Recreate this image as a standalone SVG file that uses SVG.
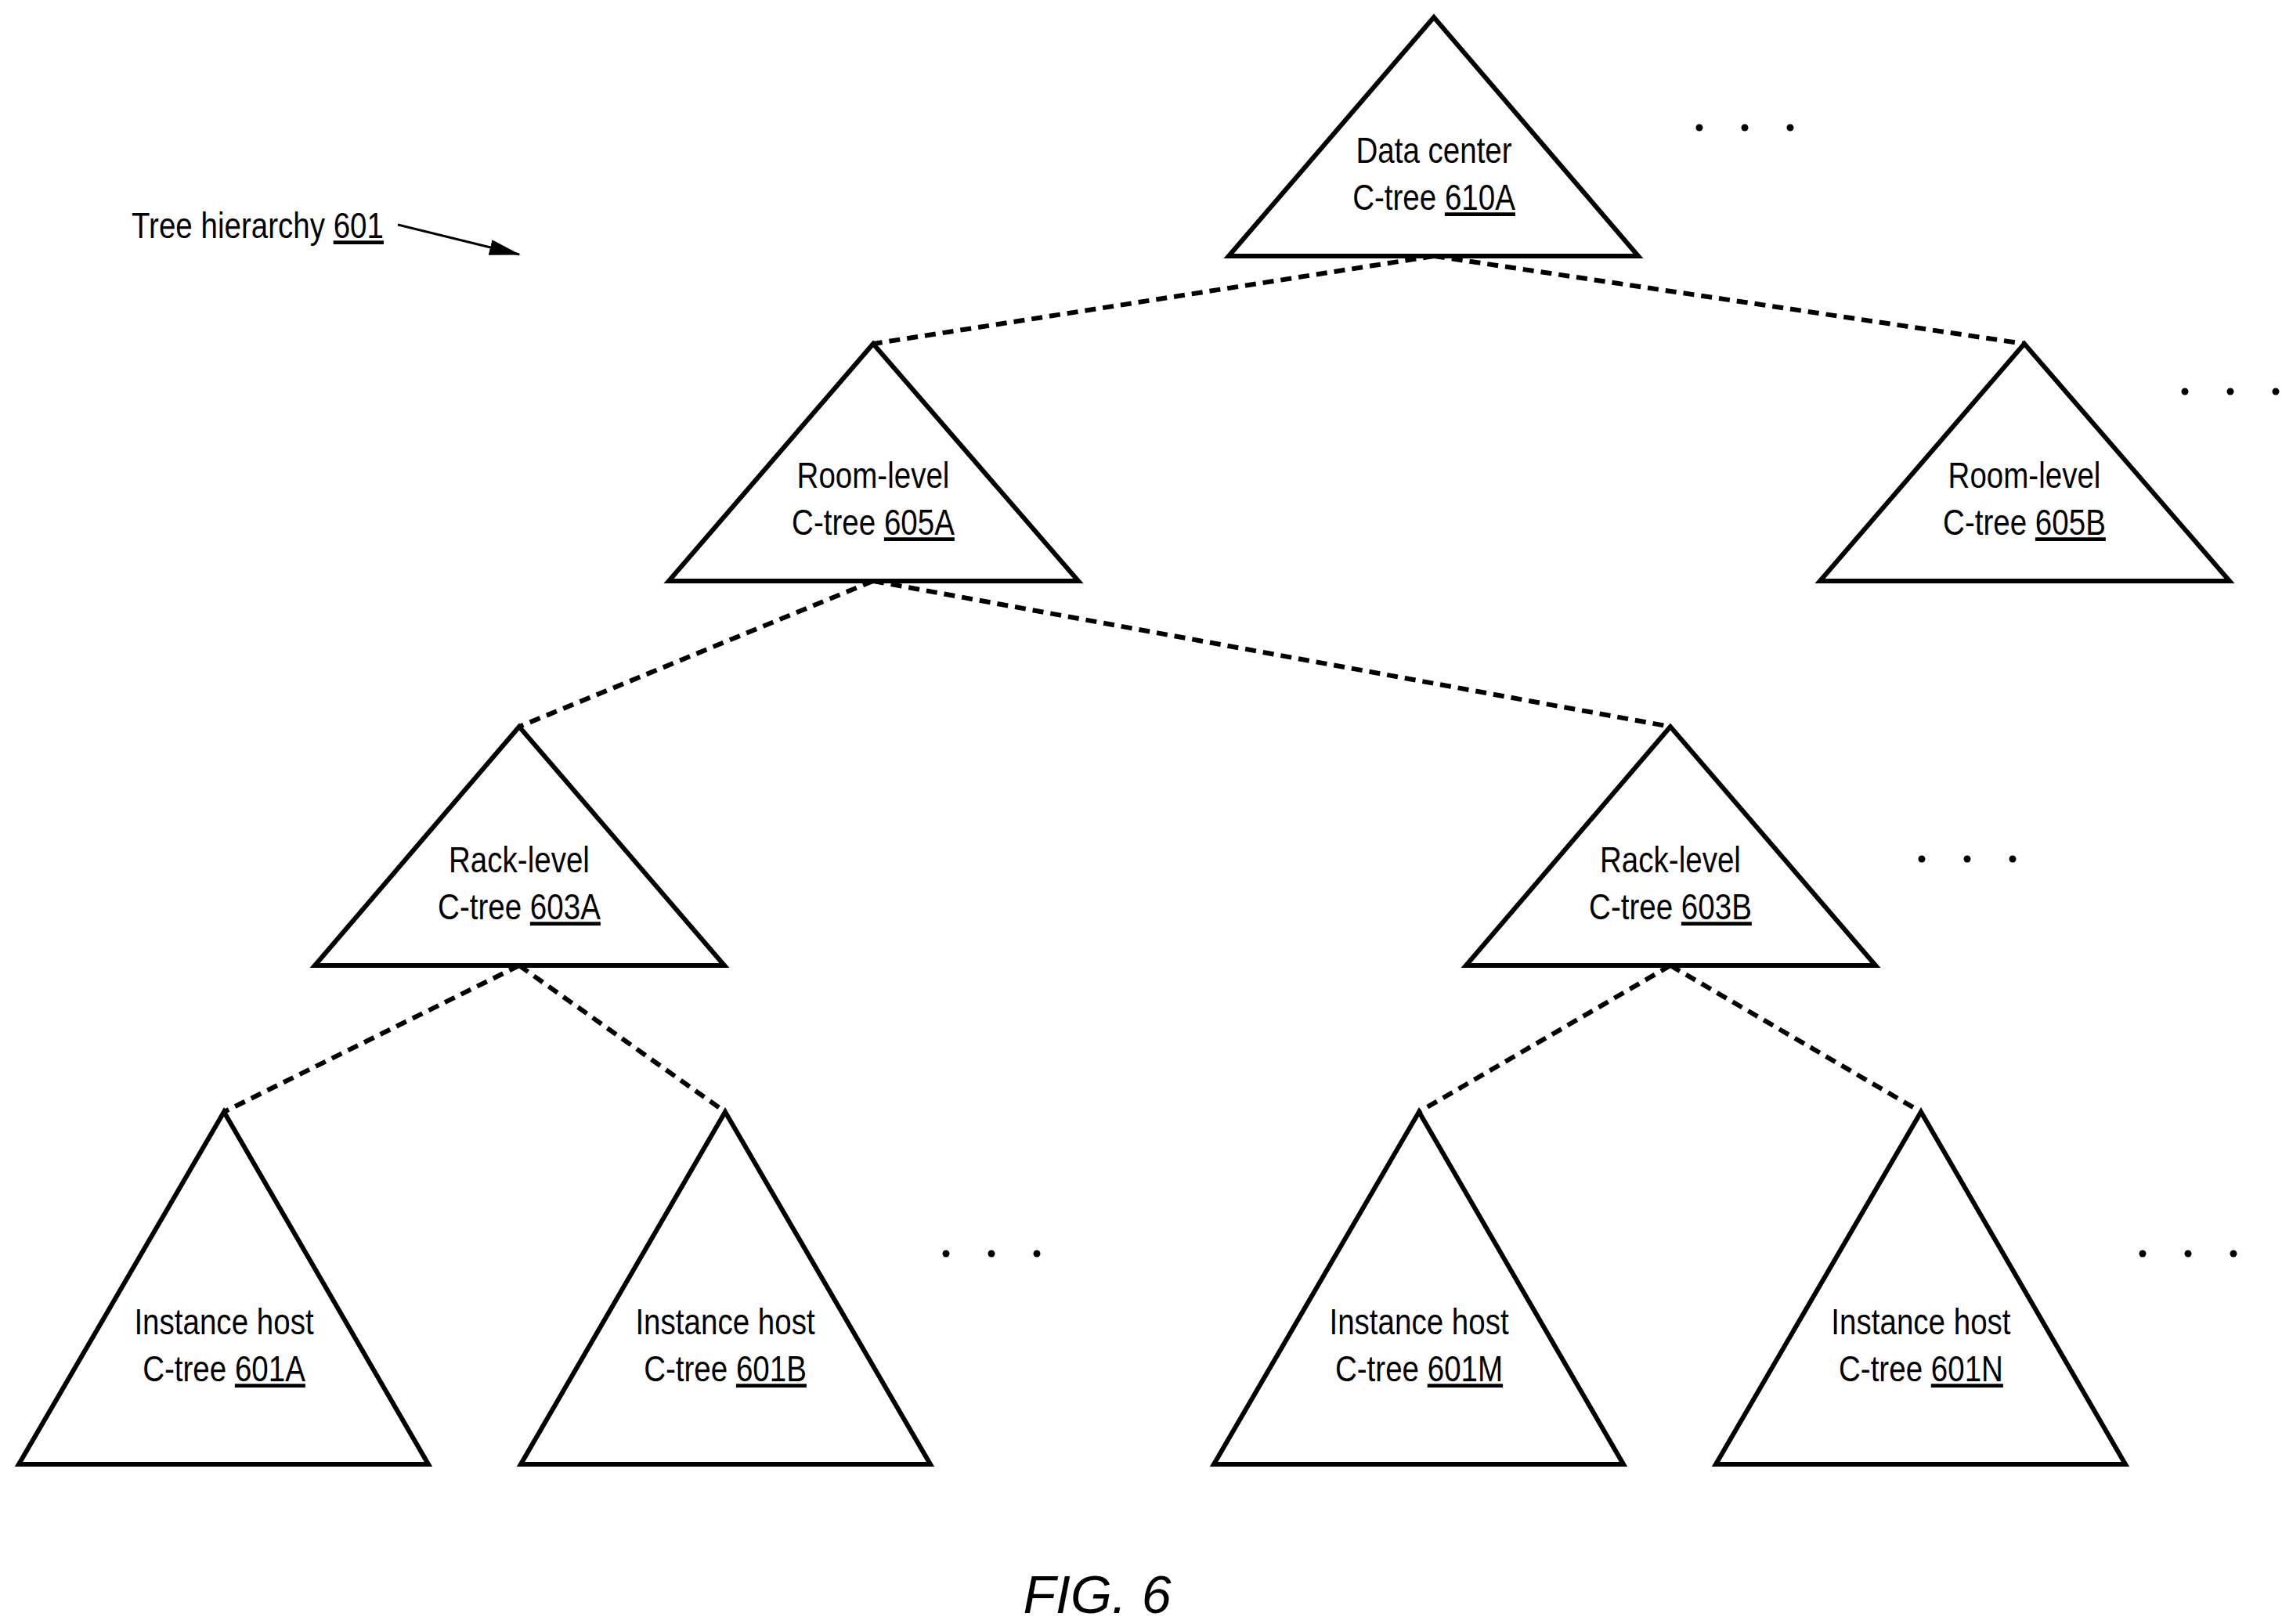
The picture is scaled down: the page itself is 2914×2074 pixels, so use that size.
<svg xmlns="http://www.w3.org/2000/svg" width="2914" height="2074" viewBox="0 0 2914 2074">
<style>
.tri{fill:#fff;stroke:#000;stroke-width:6;stroke-linejoin:miter}
.dash{stroke:#000;stroke-width:6;stroke-dasharray:14 9;fill:none}
text{font-family:"Liberation Sans",Arial,sans-serif;font-size:47px;fill:#000;text-anchor:middle}
.u{text-decoration:underline}
</style>
<defs><marker id="ah" markerWidth="40" markerHeight="20" refX="38" refY="10" orient="auto" markerUnits="userSpaceOnUse" viewBox="0 0 40 20"><path d="M0,0 L40,10 L0,20 z"/></marker></defs>
<rect width="2914" height="2074" fill="#fff"/>
<g id="connectors">
<line class="dash" x1="1831" y1="327" x2="1115" y2="439"/>
<line class="dash" x1="1831" y1="327" x2="2585" y2="439"/>
<line class="dash" x1="1115" y1="742" x2="663" y2="928"/>
<line class="dash" x1="1115" y1="742" x2="2133" y2="928"/>
<line class="dash" x1="663" y1="1233" x2="286" y2="1420"/>
<line class="dash" x1="663" y1="1233" x2="926" y2="1420"/>
<line class="dash" x1="2133" y1="1233" x2="1812" y2="1420"/>
<line class="dash" x1="2133" y1="1233" x2="2453" y2="1420"/>
<line x1="508" y1="287" x2="663" y2="325" stroke="#000" stroke-width="3" marker-end="url(#ah)"/>
</g>
<g id="n610A"><polygon class="tri" points="1831,22 1569,327 2092,327"/><g transform="matrix(.82,0,0,1,329.6,0)"><text x="1831" y="208">Data center</text><text x="1831" y="268">C-tree <tspan class="u">610A</tspan></text></g></g>
<g id="n605A"><polygon class="tri" points="1115,439 854,742 1377,742"/><g transform="matrix(.82,0,0,1,200.7,0)"><text x="1115" y="623">Room-level</text><text x="1115" y="683">C-tree <tspan class="u">605A</tspan></text></g></g>
<g id="n605B"><polygon class="tri" points="2585,439 2324,742 2847,742"/><g transform="matrix(.82,0,0,1,465.3,0)"><text x="2585" y="623">Room-level</text><text x="2585" y="683">C-tree <tspan class="u">605B</tspan></text></g></g>
<g id="n603A"><polygon class="tri" points="663,928 402,1233 925,1233"/><g transform="matrix(.82,0,0,1,119.3,0)"><text x="663" y="1114">Rack-level</text><text x="663" y="1174">C-tree <tspan class="u">603A</tspan></text></g></g>
<g id="n603B"><polygon class="tri" points="2133,928 1872,1233 2395,1233"/><g transform="matrix(.82,0,0,1,383.9,0)"><text x="2133" y="1114">Rack-level</text><text x="2133" y="1174">C-tree <tspan class="u">603B</tspan></text></g></g>
<g id="n601A"><polygon class="tri" points="286,1420 24,1870 547,1870"/><g transform="matrix(.82,0,0,1,51.5,0)"><text x="286" y="1704">Instance host</text><text x="286" y="1764">C-tree <tspan class="u">601A</tspan></text></g></g>
<g id="n601B"><polygon class="tri" points="926,1420 665,1870 1188,1870"/><g transform="matrix(.82,0,0,1,166.7,0)"><text x="926" y="1704">Instance host</text><text x="926" y="1764">C-tree <tspan class="u">601B</tspan></text></g></g>
<g id="n601M"><polygon class="tri" points="1812,1420 1550,1870 2073,1870"/><g transform="matrix(.82,0,0,1,326.2,0)"><text x="1812" y="1704">Instance host</text><text x="1812" y="1764">C-tree <tspan class="u">601M</tspan></text></g></g>
<g id="n601N"><polygon class="tri" points="2453,1420 2191,1870 2714,1870"/><g transform="matrix(.82,0,0,1,441.5,0)"><text x="2453" y="1704">Instance host</text><text x="2453" y="1764">C-tree <tspan class="u">601N</tspan></text></g></g>
<g id="label" transform="matrix(.82,0,0,1,30.2,0)"><text x="168" y="304" style="text-anchor:start">Tree hierarchy <tspan class="u">601</tspan></text></g>
<g id="dots" fill="#000">
<circle cx="2170" cy="163" r="4.5"/><circle cx="2228" cy="163" r="4.5"/><circle cx="2286" cy="163" r="4.5"/>
<circle cx="2790" cy="500" r="4.5"/><circle cx="2848" cy="500" r="4.5"/><circle cx="2906" cy="500" r="4.5"/>
<circle cx="2454" cy="1097" r="4.5"/><circle cx="2512" cy="1097" r="4.5"/><circle cx="2570" cy="1097" r="4.5"/>
<circle cx="1208" cy="1601" r="4.5"/><circle cx="1266" cy="1601" r="4.5"/><circle cx="1324" cy="1601" r="4.5"/>
<circle cx="2736" cy="1601" r="4.5"/><circle cx="2794" cy="1601" r="4.5"/><circle cx="2852" cy="1601" r="4.5"/>
</g>
<text x="1401" y="2060" style="font-family:'Liberation Sans',Arial,sans-serif;font-style:italic;font-size:68px">FIG. 6</text>
</svg>
